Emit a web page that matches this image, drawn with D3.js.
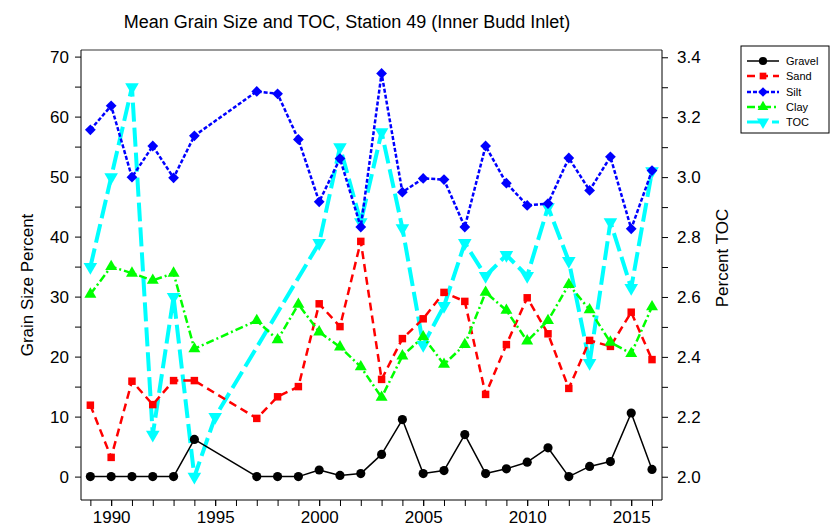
<!DOCTYPE html>
<html>
<head>
<meta charset="utf-8">
<script src="https://cdn.jsdelivr.net/npm/d3@7"></script>
<style>
  body { margin: 0; background: #fff; }
  text { font-family: "Liberation Sans", Arial, sans-serif; }
</style>
</head>
<body>
<div id="chart-area"></div>
<script>
// Station 49 grain size + TOC
var years = [1989, 1990, 1991, 1992, 1993, 1994, 1997, 1998, 1999, 2000, 2001, 2002, 2003,
             2004, 2005, 2006, 2007, 2008, 2009, 2010, 2011, 2012, 2013, 2014, 2015, 2016];
var gravel = [0, 0, 0, 0, 0, 6.2, 0, 0, 0, 1.1, 0.2, 0.5, 3.7, 9.5, 0.5, 1.0, 7.0, 0.5, 1.3, 2.4, 4.8, 0, 1.7, 2.5, 10.6, 1.2];
var sand = [11.9, 3.2, 15.9, 12.0, 16.0, 16.0, 9.7, 13.3, 15.0, 28.8, 25.0, 39.2, 16.2, 23.0, 26.3, 30.7, 29.2, 13.7, 22.0, 29.8, 23.8, 14.7, 22.7, 21.7, 27.4, 19.5];
var silt = [57.8, 61.8, 49.9, 55.1, 49.8, 56.8, 64.2, 63.8, 56.2, 45.8, 53.0, 41.6, 67.2, 47.4, 49.7, 49.5, 41.6, 55.1, 48.9, 45.2, 45.5, 53.1, 47.7, 53.3, 41.3, 51.0];
var clay = [30.4, 35.0, 33.9, 32.7, 33.9, 21.3, 26.0, 22.8, 28.7, 24.1, 21.6, 18.3, 13.2, 20.1, 23.3, 18.7, 22.0, 30.7, 27.7, 22.6, 26.0, 32.0, 27.8, 22.4, 20.5, 28.3];

var tocYears = [1989, 1990, 1991, 1992, 1993, 1994, 1995, 2000, 2001, 2002, 2003, 2004, 2005,
                2006, 2007, 2008, 2009, 2010, 2011, 2012, 2013, 2014, 2015, 2016];
var toc = [2.70, 3.00, 3.30, 2.14, 2.60, 2.00, 2.20, 2.78, 3.10, 2.85, 3.15, 2.83, 2.44,
           2.57, 2.78, 2.67, 2.74, 2.67, 2.90, 2.72, 2.38, 2.85, 2.63, 3.02];

var leftTicks = [0, 10, 20, 30, 40, 50, 60, 70];
var rightTicks = [2.0, 2.2, 2.4, 2.6, 2.8, 3.0, 3.2, 3.4];
var yearTicks = [1990, 1995, 2000, 2005, 2010, 2015];

var W = 835, H = 531;
var L = 81, R = 662, T = 50, B = 500;

var svg = d3.select("#chart-area").append("svg")
            .attr("width", W)
            .attr("height", H);

const x = d3.scaleLinear().domain([1988.55, 2016.48]).range([L, R]);
const y = d3.scaleLinear().domain([-3.9, 71.1]).range([B, T]);
const y2 = d3.scaleLinear().domain([1.9223, 3.4243]).range([B, T]);

// series, drawn in this order (TOC underneath)
var series = [
    {name: "TOC", xs: tocYears, vals: toc, scale: y2, color: "#00FFFF", width: 4, dash: "19,6",
     sym: d3.symbolTriangle, size: 80, rot: 180},
    {name: "Gravel", xs: years, vals: gravel, scale: y, color: "#000000", width: 1.5, dash: null,
     sym: d3.symbolCircle, size: 66, rot: 0},
    {name: "Sand", xs: years, vals: sand, scale: y, color: "#FF0000", width: 2.5, dash: "8,5",
     sym: d3.symbolSquare, size: 56, rot: 0},
    {name: "Silt", xs: years, vals: silt, scale: y, color: "#0000FF", width: 2.5, dash: "4,2",
     sym: d3.symbolSquare, size: 58, rot: 45},
    {name: "Clay", xs: years, vals: clay, scale: y, color: "#00FF00", width: 2.5, dash: "8,3,2,3",
     sym: d3.symbolTriangle, size: 62, rot: 0}
];

// axes
svg.append("g").attr("transform", "translate(" + L + ",0)")
    .call(d3.axisLeft(y).tickValues(leftTicks).tickSize(6).tickPadding(6).tickFormat(d3.format("d")));
svg.append("g").attr("transform", "translate(" + L + ",0)")
    .call(d3.axisLeft(y).tickValues(d3.range(5, 70, 10)).tickSize(6).tickFormat(""));

svg.append("g").attr("transform", "translate(" + R + ",0)")
    .call(d3.axisRight(y2).tickValues(rightTicks).tickSize(6).tickPadding(9).tickFormat(d3.format(".1f")));
svg.append("g").attr("transform", "translate(" + R + ",0)")
    .call(d3.axisRight(y2).tickValues([2.1, 2.3, 2.5, 2.7, 2.9, 3.1, 3.3]).tickSize(6).tickFormat(""));

svg.append("g").attr("transform", "translate(0," + B + ")")
    .call(d3.axisBottom(x).tickValues(yearTicks).tickSize(6).tickPadding(5).tickFormat(d3.format("d")));
svg.append("g").attr("transform", "translate(0," + B + ")")
    .call(d3.axisBottom(x).tickValues(d3.range(1989, 2017)).tickSize(6).tickFormat(""));

svg.selectAll(".domain").remove();
svg.selectAll(".tick line").attr("stroke", "#000");
svg.selectAll(".tick text").attr("font-size", 17).attr("fill", "#000");

// frame
svg.append("line").attr("x1", L).attr("x2", R).attr("y1", T).attr("y2", T).attr("stroke", "#777").attr("stroke-width", 1.5);
svg.append("line").attr("x1", L).attr("x2", L).attr("y1", T).attr("y2", B).attr("stroke", "#000");
svg.append("line").attr("x1", R).attr("x2", R).attr("y1", T).attr("y2", B).attr("stroke", "#000");
svg.append("line").attr("x1", L).attr("x2", R).attr("y1", B).attr("y2", B).attr("stroke", "#000");

// lines + markers
series.forEach(s => {
    var pts = s.xs.map((yr, i) => [yr, s.vals[i]]);
    var line = d3.line().x(d => x(d[0])).y(d => s.scale(d[1]));
    svg.append("path")
        .attr("d", line(pts))
        .attr("fill", "none")
        .attr("stroke", s.color)
        .attr("stroke-width", s.width)
        .attr("stroke-dasharray", s.dash)
        .attr("stroke-linejoin", "round");
    svg.append("g").selectAll("path").data(pts).enter().append("path")
        .attr("d", d3.symbol().type(s.sym).size(s.size))
        .attr("transform", d => "translate(" + x(d[0]) + "," + s.scale(d[1]) + ") rotate(" + s.rot + ")")
        .attr("fill", s.color);
});

// titles
svg.append("text").attr("x", 347).attr("y", 28).attr("text-anchor", "middle")
    .attr("font-size", 18).text("Mean Grain Size and TOC, Station 49 (Inner Budd Inlet)");
svg.append("text").attr("transform", "translate(33,285) rotate(-90)").attr("text-anchor", "middle")
    .attr("font-size", 17).text("Grain Size Percent");
svg.append("text").attr("transform", "translate(728,258) rotate(-90)").attr("text-anchor", "middle")
    .attr("font-size", 17).text("Percent TOC");

// legend
var legOrder = ["Gravel", "Sand", "Silt", "Clay", "TOC"];
var legY = [61, 76, 92, 107, 122];
svg.append("rect").attr("x", 741).attr("y", 46).attr("width", 88).attr("height", 87)
    .attr("fill", "#fff").attr("stroke", "#000");
legOrder.forEach((nm, i) => {
    var s = series.find(d => d.name === nm);
    var g = svg.append("g");
    g.append("line").attr("x1", 747).attr("x2", 779).attr("y1", legY[i]).attr("y2", legY[i])
        .attr("stroke", s.color).attr("stroke-width", Math.min(s.width, 3))
        .attr("stroke-dasharray", s.dash);
    g.append("path").attr("d", d3.symbol().type(s.sym).size(s.size * 0.8))
        .attr("transform", "translate(763," + legY[i] + ") rotate(" + s.rot + ")")
        .attr("fill", s.color);
    g.append("text").attr("x", 786).attr("y", legY[i] + 4).attr("font-size", 11).text(nm);
});
</script>
</body>
</html>
